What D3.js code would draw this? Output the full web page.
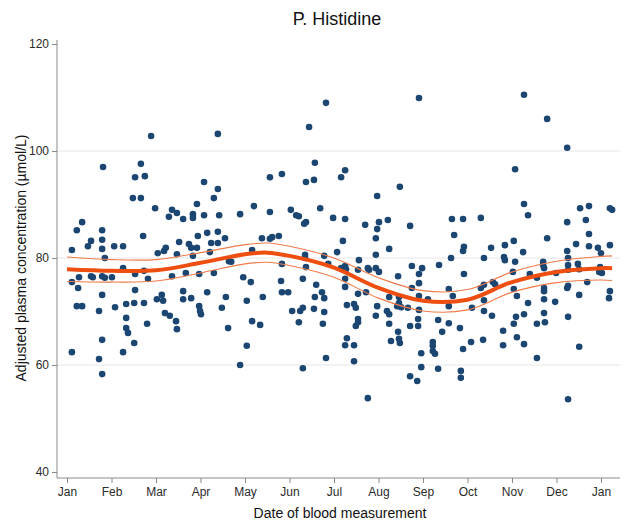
<!DOCTYPE html>
<html><head><meta charset="utf-8">
<script src="https://cdn.jsdelivr.net/npm/d3@7"></script>
<style>body{margin:0;background:#fff;}svg{display:block;font-family:"Liberation Sans",Arial,sans-serif;}</style>
</head><body>
<script>
// Month position (0 = 1 Jan, 12 = next 1 Jan) of each measurement
const measMonth = [1.89,0.81,1.66,1.53,1.75,1.48,1.66,1.98,0.34,0.22,0.79,1.71,0.54,0.79,0.47,0.11,0.79,1.06,1.26,0.85,1.26,0.11,0.27,0.54,0.58,0.79,0.85,1.01,1.53,1.73,1.82,0.25,1.53,0.79,0.22,0.34,0.72,1.08,1.33,1.51,1.73,1.33,1.80,1.33,1.37,0.79,1.51,0.11,1.26,0.72,0.79,
3.39,3.08,3.39,3.30,2.92,2.36,2.47,2.29,2.61,2.83,2.83,3.08,3.42,3.89,2.94,3.15,3.39,3.55,2.52,2.74,2.79,2.92,3.24,3.39,2.22,2.18,2.04,3.21,2.47,2.83,3.64,3.69,2.36,2.67,2.97,3.30,3.96,2.61,3.15,2.02,2.13,2.16,2.61,2.79,3.57,4.04,2.97,2.99,3.01,3.48,2.20,2.31,2.45,2.47,3.62,4.04,3.89,
5.82,5.44,5.57,4.56,4.83,5.37,5.55,6.16,6.25,4.20,4.56,5.03,5.15,5.21,5.69,5.98,5.37,5.33,4.38,4.56,4.61,4.76,6.20,4.16,6.07,5.35,5.35,5.78,4.83,5.37,5.87,6.16,4.13,4.81,5.30,5.60,4.83,4.97,5.73,4.40,5.57,5.78,5.06,5.24,5.30,5.55,5.78,4.16,4.34,5.21,5.75,5.82,5.30,6.25,
7.91,7.48,6.97,6.25,6.70,7.01,7.21,7.71,6.97,6.94,7.24,6.94,6.56,6.25,6.27,6.54,6.76,6.79,6.94,7.01,7.44,7.75,7.98,7.91,8.36,6.25,7.91,6.25,6.72,6.54,7.75,7.91,8.11,7.46,7.46,7.51,7.42,7.24,7.66,7.91,6.97,6.94,6.29,6.45,6.49,7.19,7.24,6.54,6.54,6.49,7.89,7.24,7.71,7.89,8.34,6.29,6.45,7.44,7.28,7.46,7.48,8.22,8.22,8.22,8.27,7.96,6.45,8.34,7.96,7.71,7.87,6.76,
10.27,10.07,10.27,10.36,8.65,8.90,9.30,8.70,10.04,9.84,9.53,8.92,8.90,10.25,8.63,9.37,9.82,9.84,10.07,8.92,10.02,8.58,8.67,9.30,9.37,9.57,9.62,9.37,10.04,10.11,8.58,9.10,9.37,9.55,10.36,10.27,10.09,8.58,8.83,8.43,10.04,9.80,10.11,9.08,9.35,10.27,9.80,8.90,8.85,8.85,10.40,
10.79,11.24,11.53,11.73,12.20,12.25,11.24,11.66,11.73,10.79,11.44,11.73,11.93,12.20,11.24,12.00,11.26,10.70,10.70,10.72,11.48,11.51,11.98,11.96,12.02,11.26,11.26,10.99,10.56,11.69,11.26,11.24,10.72,10.72,12.20,12.18,11.51,10.72,10.97,10.72,10.74,10.56,11.26,11.51,10.56,11.26];
// Adjusted plasma histidine (µmol/L)
const histidine = [102.8,97.0,97.6,95.1,95.3,91.2,91.2,89.3,86.7,85.2,85.2,84.1,83.2,83.4,82.2,81.5,81.7,82.2,82.2,80.0,78.1,75.5,76.4,76.6,76.4,76.6,76.3,76.4,77.0,77.6,76.1,74.4,74.0,73.1,71.0,71.0,70.1,70.8,71.4,71.6,71.6,68.8,67.7,66.9,66.0,64.7,64.1,62.4,62.4,61.1,58.3,
103.2,94.2,92.9,91.2,90.1,89.0,88.4,87.7,87.3,88.2,87.5,88.0,88.0,88.2,84.1,84.7,84.9,83.7,83.0,82.6,81.9,81.9,82.8,82.8,81.9,81.3,80.9,81.1,80.7,80.4,79.4,79.3,76.6,77.2,77.0,77.2,76.4,73.8,73.6,72.3,73.1,72.0,72.3,72.5,72.7,72.0,71.0,70.1,69.5,70.7,69.7,69.2,68.2,66.7,66.9,63.6,60.0,
109.0,104.5,97.8,95.1,95.7,94.2,94.6,95.1,96.4,89.7,88.6,89.0,88.0,87.8,89.3,87.5,86.7,86.4,83.7,83.6,83.9,84.1,83.2,81.5,81.1,80.6,80.0,80.4,78.9,78.3,78.9,78.1,75.5,75.7,76.1,75.0,73.6,73.6,73.6,72.7,72.7,72.5,70.1,70.1,70.7,70.5,69.9,68.2,67.5,68.0,67.7,61.3,59.4,63.7,
109.9,93.3,91.6,87.3,86.2,86.7,87.1,86.0,85.4,83.7,81.7,80.6,79.6,78.5,77.9,77.8,78.1,77.8,78.1,77.4,76.6,78.5,78.1,77.0,78.7,76.1,75.3,74.6,73.6,73.3,74.4,72.9,72.3,72.7,71.6,70.8,71.0,72.7,70.7,70.3,71.0,69.2,71.2,71.4,70.7,70.1,69.5,68.6,68.0,67.3,68.6,67.7,67.3,67.3,68.4,65.0,63.7,66.2,64.5,64.9,64.1,64.3,63.6,62.6,62.1,62.2,60.7,59.3,59.6,57.9,57.0,53.8,
110.5,96.6,90.1,88.0,87.3,87.3,87.5,84.3,83.2,82.4,81.9,82.1,81.3,81.1,80.0,80.0,80.2,79.6,79.3,77.0,77.4,74.2,72.9,74.4,75.0,75.5,75.1,72.1,74.2,72.9,71.0,70.7,70.1,69.2,71.6,69.5,69.0,67.8,66.9,66.2,67.7,66.4,65.2,64.3,64.7,63.9,63.7,63.0,58.9,57.6,77.0,
106.0,100.6,89.3,89.7,89.3,89.0,86.7,87.1,84.5,83.7,82.6,82.2,81.9,82.4,81.3,80.9,80.0,79.3,78.7,78.1,78.9,77.9,78.3,77.4,77.2,78.7,77.8,77.2,76.3,75.5,74.8,74.4,74.4,73.8,73.8,72.5,73.1,72.3,71.8,69.7,68.0,67.7,69.0,63.4,61.3,53.6];

// Seasonal fit (thick line) and its 95% confidence band half-width
const fitMonth = [0,1,2,3,4,4.5,5,6,7,8,9,10,11,12,12.25];
const fitValue = [77.9,77.6,77.7,79.1,80.7,81.0,80.4,78.2,74.4,72.0,72.2,75.5,77.4,78.1,78.1];
const fitHalfCI = [2.3,2.1,2.0,1.9,1.8,1.8,1.8,1.8,1.9,1.9,1.9,1.9,2.0,2.2,2.3];

const monthTicks = [0,1,2,3,4,5,6,7,8,9,10,11,12];
const monthLabels = ["Jan","Feb","Mar","Apr","May","Jun","Jul","Aug","Sep","Oct","Nov","Dec","Jan"];
const yTicks = [40,60,80,100,120];
const yGrid = [60,80,100];

const W = 637, H = 526;
const svg = d3.select("body").append("svg").attr("width", W).attr("height", H);

const x = d3.scaleLinear().domain([0, 12]).range([67, 601]);
const y = d3.scaleLinear().domain([40, 120]).range([472, 44]);
const axisX0 = 57, axisX1 = 620, axisY = 478, axisTop = 40;

// gridlines
svg.append("g").selectAll("line").data(yGrid).join("line")
  .attr("x1", axisX0).attr("x2", axisX1)
  .attr("y1", d => y(d)).attr("y2", d => y(d))
  .attr("stroke", "#e6e6e6").attr("stroke-width", 1);

// axes
const yAxis = d3.axisLeft(y).tickValues(yTicks).tickSize(5).tickPadding(3);
const gy = svg.append("g").attr("transform", `translate(${axisX0},0)`).call(yAxis);
gy.select(".domain").attr("d", `M0,${axisTop}V${axisY}`);
const xAxis = d3.axisBottom(x).tickValues(monthTicks).tickFormat((d,i) => monthLabels[i]).tickSize(5).tickPadding(4);
const gx = svg.append("g").attr("transform", `translate(0,${axisY})`).call(xAxis);
gx.select(".domain").attr("d", `M${axisX0},0H${axisX1}`);
[gx, gy].forEach(g => {
  g.select(".domain").attr("stroke", "#8a8a8a");
  g.selectAll(".tick line").attr("stroke", "#8a8a8a");
  g.selectAll(".tick text").attr("fill", "#2a2a2a").style("font-size", "12px").style("font-family", "Liberation Sans, Arial, sans-serif");
});

// points
const pts = measMonth.map((m, i) => [m, histidine[i]]);
svg.append("g").selectAll("circle").data(pts).join("circle")
  .attr("cx", d => x(d[0])).attr("cy", d => y(d[1])).attr("r", 3.3)
  .attr("fill", "#1b4672");

// fit lines
const fit = fitMonth.map((m, i) => ({m, v: fitValue[i], h: fitHalfCI[i]}));
const line = acc => d3.line().x(d => x(d.m)).y(d => y(acc(d))).curve(d3.curveCatmullRom.alpha(0.5));
svg.append("path").datum(fit).attr("d", line(d => d.v + d.h)).attr("fill", "none").attr("stroke", "#f07a4a").attr("stroke-width", 1.1);
svg.append("path").datum(fit).attr("d", line(d => d.v - d.h)).attr("fill", "none").attr("stroke", "#f07a4a").attr("stroke-width", 1.1);
svg.append("path").datum(fit).attr("d", line(d => d.v)).attr("fill", "none").attr("stroke", "#ee4f10").attr("stroke-width", 4);

// titles
svg.append("text").attr("x", 337).attr("y", 25).attr("text-anchor", "middle")
  .style("font-size", "18px").attr("fill", "#111").text("P. Histidine");
svg.append("text").attr("x", 340).attr("y", 518).attr("text-anchor", "middle")
  .style("font-size", "14px").attr("fill", "#111").text("Date of blood measurement");
svg.append("text").attr("transform", `translate(26,${y(80)}) rotate(-90)`).attr("text-anchor", "middle")
  .style("font-size", "14px").attr("fill", "#111").text("Adjusted plasma concentration (µmol/L)");
</script>
</body></html>
